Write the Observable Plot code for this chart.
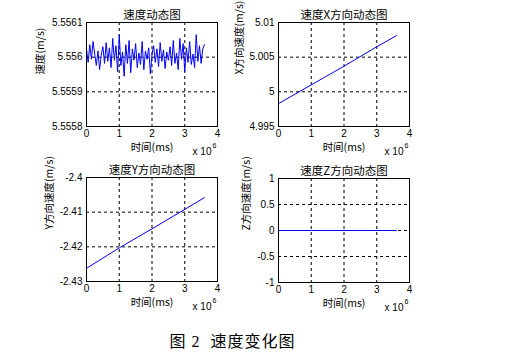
<!DOCTYPE html>
<html>
<head>
<meta charset="utf-8">
<script src="https://cdn.jsdelivr.net/npm/d3@7"></script>
<script src="https://cdn.jsdelivr.net/npm/@observablehq/plot@0.6"></script>
<style>
  html, body { margin: 0; padding: 0; background: #fff; }
  #root { position: relative; width: 523px; height: 360px; background: #fff; overflow: hidden; }
  .panel { position: absolute; }
  .panel svg { overflow: visible; background: transparent; }
  #caption { position: absolute; top: 332px; left: 0; width: 465px; text-align: center;
    font-family: 'Liberation Serif', 'Noto Sans CJK SC', serif; font-size: 16px; line-height: 20px;
    letter-spacing: 1px; color: #000; white-space: pre; }
</style>
</head>
<body>
<div id="root">
  <div id="caption">图 2  速度变化图</div>
</div>
<script>
// time axis (units of 10^6 ms)
const time = [0,0.05,0.1,0.15,0.2,0.25,0.3,0.35,0.4,0.45,0.5,0.55,0.6,0.65,0.7,0.75,0.8,0.85,0.9,0.95,
  1,1.05,1.1,1.15,1.2,1.25,1.3,1.35,1.4,1.45,1.5,1.55,1.6,1.65,1.7,1.75,1.8,1.85,1.9,1.95,
  2,2.05,2.1,2.15,2.2,2.25,2.3,2.35,2.4,2.45,2.5,2.55,2.6,2.65,2.7,2.75,2.8,2.85,2.9,2.95,
  3,3.05,3.1,3.15,3.2,3.25,3.3,3.35,3.4,3.45,3.5,3.55,3.6];
// overall speed (m/s)
const speed = [5.556024,5.555985,5.556036,5.555994,5.556045,5.556009,5.555976,5.556018,5.555964,5.556006,
  5.556030,5.555982,5.556042,5.555988,5.556027,5.555970,5.556054,5.555991,5.556033,5.555958,
  5.556065,5.555976,5.556015,5.555945,5.556036,5.555982,5.556048,5.555955,5.556024,5.555991,
  5.556039,5.555970,5.556012,5.555979,5.556045,5.555964,5.556018,5.555994,5.556027,5.555952,
  5.556009,5.556033,5.555985,5.556024,5.555973,5.556042,5.555988,5.556021,5.555967,5.556015,
  5.555991,5.556030,5.555976,5.556048,5.555982,5.556012,5.555964,5.556054,5.555994,5.556039,
  5.555958,5.556027,5.555985,5.556045,5.555979,5.556009,5.555970,5.556065,5.555988,5.556033,
  5.555982,5.556024,5.556036];
// linear components
const timeLin = [0, 1, 2, 3, 3.6];
const speedX = [4.9983, 5.0010, 5.0037, 5.0065, 5.0081];
const speedY = [-2.4262, -2.4203, -2.4148, -2.4092, -2.4058];
const speedZ = [0, 0, 0, 0, 0];

const xTicks = [0, 1, 2, 3, 4];
const xTickLabels = ["0", "1", "2", "3", "4"];
const y1Ticks = [5.5558, 5.5559, 5.556, 5.5561];
const y1Labels = ["5.5558", "5.5559", "5.556", "5.5561"];
const y2Ticks = [4.995, 5, 5.005, 5.01];
const y2Labels = ["4.995", "5", "5.005", "5.01"];
const y3Ticks = [-2.43, -2.42, -2.41, -2.4];
const y3Labels = ["-2.43", "-2.42", "-2.41", "-2.4"];
const y4Ticks = [-1, -0.5, 0, 0.5, 1];
const y4Labels = ["-1", "-0.5", "0", "0.5", "1"];

const titles = ["速度动态图", "速度X方向动态图", "速度Y方向动态图", "速度Z方向动态图"];
const yLabels = ["速度(m/s)", "X方向速度(m/s)", "Y方向速度(m/s)", "Z方向速度(m/s)"];
const xLabel = "时间(ms)";

const CJK = "'Noto Sans CJK SC', sans-serif";
const LAT = "'Liberation Sans', Arial, sans-serif";

function panel({left, top, mL, ylDx, xs, ys, yTicks, yLabs, title, ylabel}) {
  const data = xs.map((t, i) => ({t, v: ys[i]}));
  const W = 260, H = 160, mT = 22, mB = 34;
  const mR = W - mL - 131;
  const chart = Plot.plot({
    width: W, height: H,
    marginLeft: mL, marginRight: mR, marginTop: mT, marginBottom: mB,
    style: {fontFamily: LAT, fontSize: "10px", color: "#000", background: "transparent"},
    x: {domain: [0, 4]},
    y: {domain: [yTicks[0], yTicks[yTicks.length - 1]]},
    marks: [
      Plot.gridX(xTicks, {stroke: "black", strokeOpacity: 1, strokeDasharray: "3,3"}),
      Plot.gridY(yTicks, {stroke: "black", strokeOpacity: 1, strokeDasharray: "3,3"}),
      Plot.line(data, {x: "t", y: "v", stroke: "#0000ff", strokeWidth: 1}),
      Plot.frame({stroke: "black", strokeWidth: 1}),
      Plot.axisX(xTicks, {tickSize: 0, tickPadding: 3, label: null, fontSize: 10, fill: "black",
        tickFormat: d => xTickLabels[xTicks.indexOf(d)]}),
      Plot.axisY(yTicks, {tickSize: 0, tickPadding: 4, label: null, fontSize: 10, fill: "black",
        tickFormat: d => yLabs[yTicks.indexOf(d)]}),
      Plot.text([title], {text: d => d, frameAnchor: "top", dy: -12, fontFamily: CJK, fontSize: 11.5, fill: "black"}),
      Plot.text([xLabel], {text: d => d, frameAnchor: "bottom", dy: 24, fontFamily: CJK, fontSize: 10.5, fill: "black"}),
      Plot.text([ylabel], {text: d => d, frameAnchor: "left", dx: ylDx, rotate: -90, fontFamily: CJK, fontSize: 10.5, fill: "black"}),
      Plot.text(["x 10"], {text: d => d, frameAnchor: "bottom-right", dx: -6, dy: 28, textAnchor: "end", fontFamily: LAT, fontSize: 10, fill: "black"}),
      Plot.text(["6"], {text: d => d, frameAnchor: "bottom-right", dx: -5, dy: 21, textAnchor: "start", fontFamily: LAT, fontSize: 7, fill: "black"})
    ]
  });
  const div = document.createElement("div");
  div.className = "panel";
  div.style.left = left + "px";
  div.style.top = top + "px";
  div.appendChild(chart);
  document.getElementById("root").appendChild(div);
}

panel({left: 0, top: 0, mL: 86, ylDx: -46, xs: time, ys: speed, yTicks: y1Ticks, yLabs: y1Labels, title: titles[0], ylabel: yLabels[0]});
panel({left: 200, top: 0, mL: 78, ylDx: -39, xs: timeLin, ys: speedX, yTicks: y2Ticks, yLabs: y2Labels, title: titles[1], ylabel: yLabels[1]});
panel({left: 0, top: 155, mL: 86, ylDx: -37, xs: timeLin, ys: speedY, yTicks: y3Ticks, yLabs: y3Labels, title: titles[2], ylabel: yLabels[2]});
panel({left: 200, top: 156, mL: 78, ylDx: -32, xs: timeLin, ys: speedZ, yTicks: y4Ticks, yLabs: y4Labels, title: titles[3], ylabel: yLabels[3]});
</script>
</body>
</html>
